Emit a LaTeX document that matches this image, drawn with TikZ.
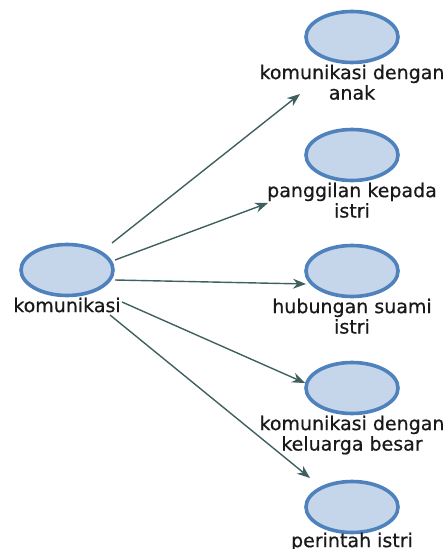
\documentclass[tikz,border=0pt]{standalone}
\usepackage{fontspec}
\setmainfont{DejaVu Sans}
\newfontfamily\lblfont{DejaVu Sans}[FakeBold=0.6]
\usetikzlibrary{positioning,arrows.meta,shapes.geometric}

\definecolor{nodefill}{RGB}{197,214,234}
\definecolor{nodeline}{RGB}{79,129,189}
\definecolor{edgecol}{RGB}{64,96,96}

\tikzset{
  concept/.style={ellipse,draw=nodeline,fill=nodefill,line width=1.8pt,
    minimum width=46pt,minimum height=25.5pt,inner sep=0pt},
  lbl/.style={inner sep=0pt,align=center,text=black!90,
    font=\lblfont\fontsize{9.5}{8}\selectfont},
  link/.style={->,draw=edgecol,line width=0.7pt},
}

\begin{document}
\begin{tikzpicture}[x=0.5pt,y=-0.5pt,>={Stealth[length=6.5pt,width=5pt]}]
      \useasboundingbox (0,0) rectangle (445,549);

      \node[concept] (0) at (67,270) {};
      \node[lbl,below=0pt of 0] (0t) {komunikasi};

      \node[concept] (1) at (352,37) {};
      \node[lbl,below=0pt of 1] (1t) {komunikasi dengan\\anak};
      \node[concept] (2) at (352,155) {};
      \node[lbl,below=0pt of 2] (2t) {panggilan kepada\\istri};
      \node[concept] (3) at (352,271) {};
      \node[lbl,below=0pt of 3] (3t) {hubungan suami\\istri};
      \node[concept] (4) at (352,388) {};
      \node[lbl,below=0pt of 4] (4t) {komunikasi dengan\\keluarga besar};
      \node[concept] (5) at (352,507) {};
      \node[lbl,below=-1pt of 5] (5t) {perintah istri};

      % free ends of the links
      \coordinate (s1) at (112,243);
      \coordinate (s2) at (115,260);
      \coordinate (s3) at (115,280);
      \coordinate (s4) at (122,302);
      \coordinate (s5) at (110,315);
      \coordinate (e1) at (300,94);
      \coordinate (e2) at (268,203);
      \coordinate (e3) at (306,284);
      \coordinate (e4) at (305,383);
      \coordinate (e5) at (310,478);

      \draw[link] (s1) -- (e1);
      \draw[link] (s2) -- (e2);
      \draw[link] (s3) -- (e3);
      \draw[link] (s4) -- (e4);
      \draw[link] (s5) -- (e5);
    \end{tikzpicture}
\end{document}
